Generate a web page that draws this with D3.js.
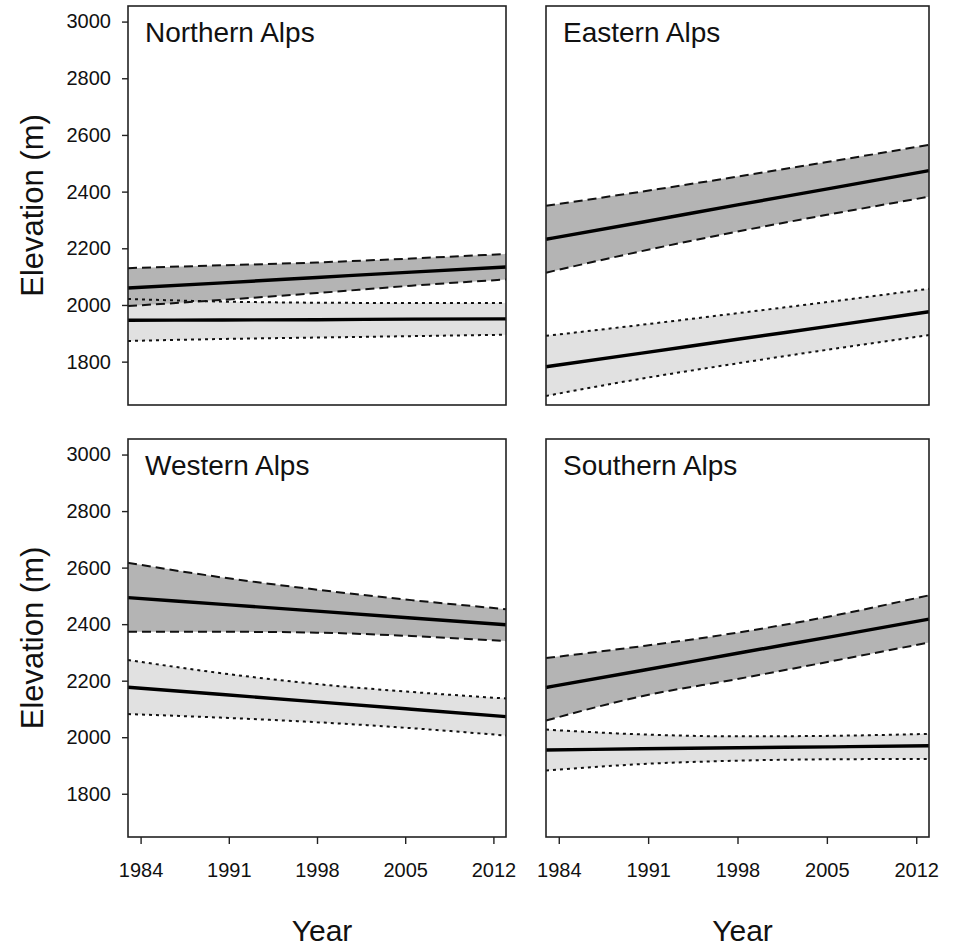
<!DOCTYPE html>
<html>
<head>
<meta charset="utf-8">
<script src="https://cdn.jsdelivr.net/npm/d3@7"></script>
<style>
  html, body { margin: 0; padding: 0; background: #fff; }
  text { font-family: Arial, "Liberation Sans", sans-serif; fill: #111; }
</style>
</head>
<body>
<svg id="chart" width="955" height="947"></svg>
<script>
// ---------------- data ----------------
const years = [1983, 1990.5, 1998, 2005.5, 2013];
const xTickValues = [1984, 1991, 1998, 2005, 2012];
const yTickValues = [1800, 2000, 2200, 2400, 2600, 2800, 3000];
const regions = ["Northern Alps", "Eastern Alps", "Western Alps", "Southern Alps"];

// dark band (dashed CI) and light band (dotted CI)
const northernDarkUpper = [2130, 2140, 2150, 2164, 2180];
const northernDarkMean  = [2060, 2078, 2097, 2116, 2134];
const northernDarkLower = [1996, 2018, 2042, 2068, 2090];
const northernLightUpper = [2021, 2012, 2008, 2007, 2007];
const northernLightMean  = [1946, 1947, 1948, 1950, 1951];
const northernLightLower = [1873, 1880, 1885, 1890, 1895];

const easternDarkUpper = [2350, 2400, 2453, 2508, 2565];
const easternDarkMean  = [2232, 2292, 2353, 2413, 2474];
const easternDarkLower = [2114, 2190, 2259, 2322, 2382];
const easternLightUpper = [1891, 1930, 1971, 2013, 2057];
const easternLightMean  = [1782, 1830, 1879, 1927, 1976];
const easternLightLower = [1679, 1740, 1794, 1845, 1894];

const westernDarkUpper = [2617, 2565, 2522, 2485, 2453];
const westernDarkMean  = [2494, 2470, 2446, 2422, 2398];
const westernDarkLower = [2373, 2373, 2370, 2358, 2340];
const westernLightUpper = [2273, 2226, 2188, 2160, 2137];
const westernLightMean  = [2177, 2151, 2125, 2099, 2073];
const westernLightLower = [2082, 2069, 2053, 2032, 2006];

const southernDarkUpper = [2280, 2322, 2370, 2430, 2502];
const southernDarkMean  = [2176, 2236, 2297, 2357, 2418];
const southernDarkLower = [2059, 2145, 2206, 2270, 2335];
const southernLightUpper = [2027, 2010, 2003, 2005, 2012];
const southernLightMean  = [1955, 1959, 1963, 1966, 1970];
const southernLightLower = [1882, 1905, 1917, 1922, 1923];

const panelData = [
  {title: regions[0], dark: [northernDarkLower, northernDarkMean, northernDarkUpper], light: [northernLightLower, northernLightMean, northernLightUpper]},
  {title: regions[1], dark: [easternDarkLower, easternDarkMean, easternDarkUpper], light: [easternLightLower, easternLightMean, easternLightUpper]},
  {title: regions[2], dark: [westernDarkLower, westernDarkMean, westernDarkUpper], light: [westernLightLower, westernLightMean, westernLightUpper]},
  {title: regions[3], dark: [southernDarkLower, southernDarkMean, southernDarkUpper], light: [southernLightLower, southernLightMean, southernLightUpper]}
];

// ---------------- layout ----------------
const panels = [
  {x0: 128, x1: 506, y0: 6,   y1: 405, left: true,  bottom: false},
  {x0: 546, x1: 929, y0: 6,   y1: 405, left: false, bottom: false},
  {x0: 128, x1: 506, y0: 439, y1: 837, left: true,  bottom: true},
  {x0: 546, x1: 929, y0: 439, y1: 837, left: false, bottom: true}
];

const svg = d3.select("#chart");

panels.forEach((p, i) => {
  const d = panelData[i];
  const x = d3.scaleLinear().domain([1983, 2013]).range([p.x0, p.x1]);
  const y = d3.scaleLinear().domain([1647, 3055]).range([p.y1, p.y0]);
  const g = svg.append("g");

  const area = d3.area().curve(d3.curveMonotoneX)
    .x((v, k) => x(years[k]))
    .y0((v, k) => y(v[0]))
    .y1((v, k) => y(v[1]));
  const line = d3.line().curve(d3.curveMonotoneX)
    .x((v, k) => x(years[k]))
    .y(v => y(v));

  const lightPairs = years.map((yr, k) => [d.light[0][k], d.light[2][k]]);
  const darkPairs = years.map((yr, k) => [d.dark[0][k], d.dark[2][k]]);

  g.append("path").attr("d", area(lightPairs)).attr("fill", "#e1e1e1");
  g.append("path").attr("d", area(darkPairs)).attr("fill", "#b4b4b4");

  // light band borders (dotted) and dark band borders (dashed)
  [d.light[0], d.light[2]].forEach(s => {
    g.append("path").attr("d", line(s)).attr("fill", "none")
      .attr("stroke", "#111").attr("stroke-width", 2).attr("stroke-dasharray", "3,4");
  });
  [d.dark[0], d.dark[2]].forEach(s => {
    g.append("path").attr("d", line(s)).attr("fill", "none")
      .attr("stroke", "#111").attr("stroke-width", 2).attr("stroke-dasharray", "9,5");
  });
  g.append("path").attr("d", line(d.light[1])).attr("fill", "none")
    .attr("stroke", "#000").attr("stroke-width", 3.4);
  g.append("path").attr("d", line(d.dark[1])).attr("fill", "none")
    .attr("stroke", "#000").attr("stroke-width", 3.4);

  // frame
  g.append("rect").attr("x", p.x0).attr("y", p.y0)
    .attr("width", p.x1 - p.x0).attr("height", p.y1 - p.y0)
    .attr("fill", "none").attr("stroke", "#222").attr("stroke-width", 1.6);

  // title
  g.append("text").attr("x", p.x0 + 17).attr("y", p.y0 + 36)
    .attr("font-size", 28).text(d.title);

  if (p.left) {
    const ax = g.append("g").attr("transform", `translate(${p.x0},0)`)
      .call(d3.axisLeft(y).tickValues(yTickValues).tickSize(6).tickPadding(11).tickFormat(d3.format("d")));
    ax.select(".domain").remove();
    ax.selectAll(".tick line").attr("stroke", "#222").attr("stroke-width", 1.4);
    ax.selectAll(".tick text").attr("font-size", 20).attr("font-family", "Arial, 'Liberation Sans', sans-serif").attr("fill", "#111");
    g.append("text")
      .attr("transform", `translate(43,${(p.y0 + p.y1) / 2}) rotate(-90)`)
      .attr("text-anchor", "middle").attr("font-size", 31).text("Elevation (m)");
  }
  if (p.bottom) {
    const ax = g.append("g").attr("transform", `translate(0,${p.y1})`)
      .call(d3.axisBottom(x).tickValues(xTickValues).tickSize(7).tickPadding(19).tickFormat(d3.format("d")));
    ax.select(".domain").remove();
    ax.selectAll(".tick line").attr("stroke", "#222").attr("stroke-width", 1.4);
    ax.selectAll(".tick text").attr("font-size", 20).attr("font-family", "Arial, 'Liberation Sans', sans-serif").attr("fill", "#111");
    g.append("text").attr("x", (p.x0 + p.x1) / 2 + 5).attr("y", 941)
      .attr("text-anchor", "middle").attr("font-size", 30).text("Year");
  }
});
</script>
</body>
</html>
